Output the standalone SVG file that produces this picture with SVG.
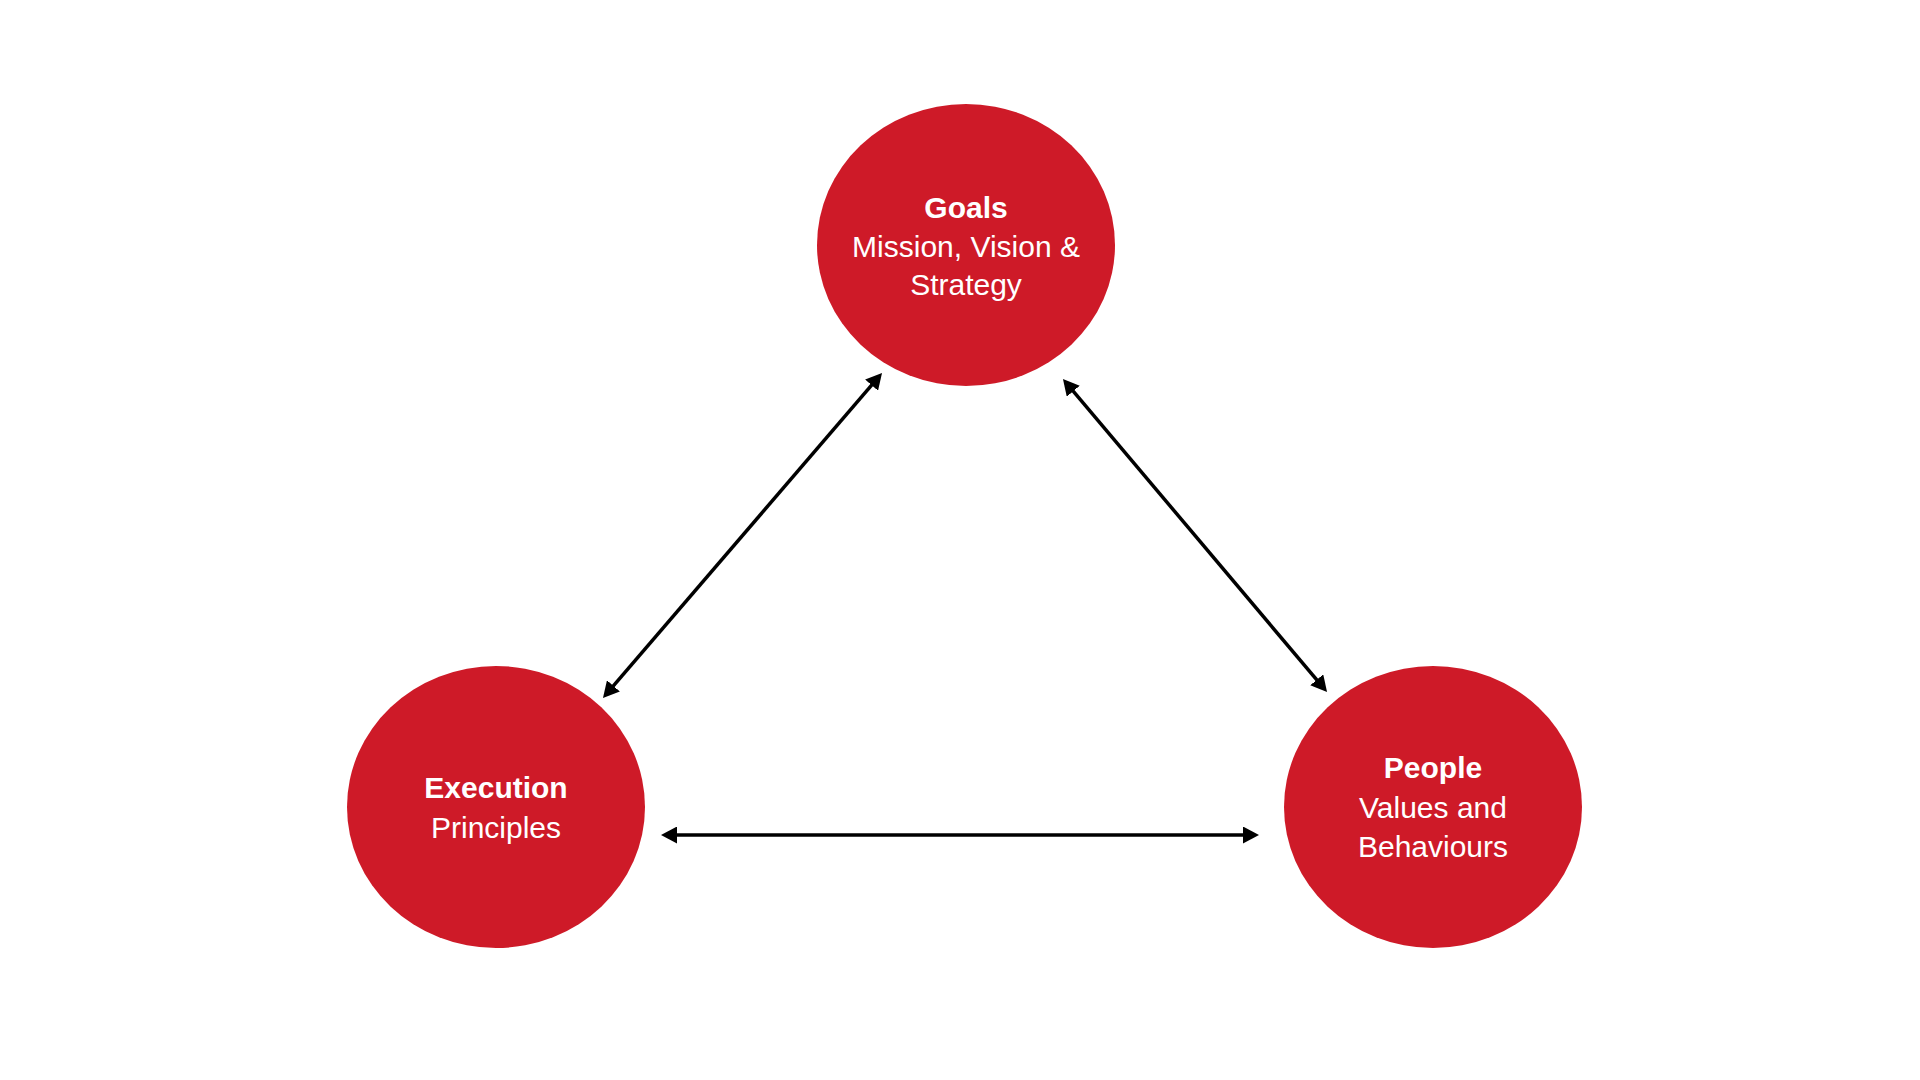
<svg xmlns="http://www.w3.org/2000/svg" width="1920" height="1080" viewBox="0 0 1920 1080">
  <style>
    .node { fill: #CE1A28; }
    .title { font-family: "Liberation Sans", Arial, sans-serif; font-size: 30px; font-weight: bold; fill: #FFFFFF; text-anchor: middle; }
    .sub { font-family: "Liberation Sans", Arial, sans-serif; font-size: 30px; font-weight: normal; fill: #FFFFFF; text-anchor: middle; }
    .conn { stroke: #000000; stroke-width: 3.5; fill: none; marker-start: url(#arrow); marker-end: url(#arrow); }
  </style>
  <defs>
    <marker id="arrow" viewBox="0 0 16 17" refX="6" refY="8.5" markerWidth="16" markerHeight="17" markerUnits="userSpaceOnUse" orient="auto-start-reverse">
      <path d="M0,0 L16,8.5 L0,17 Z" fill="#000000"/>
    </marker>
  </defs>
  <rect x="0" y="0" width="1920" height="1080" fill="#FFFFFF"/>
  <g id="connectors">
    <line class="conn" x1="875.5" y1="380.6" x2="609.5" y2="690.4"/>
    <line class="conn" x1="1069.4" y1="386.6" x2="1320.6" y2="684.4"/>
    <line class="conn" x1="671" y1="835" x2="1249" y2="835"/>
  </g>
  <g id="goals">
    <ellipse class="node" cx="966" cy="245" rx="149" ry="141"/>
    <text class="title" x="966" y="218">Goals</text>
    <text class="sub" x="966" y="257">Mission, Vision &amp;</text>
    <text class="sub" x="966" y="295">Strategy</text>
  </g>
  <g id="execution">
    <ellipse class="node" cx="496" cy="807" rx="149" ry="141"/>
    <text class="title" x="496" y="798">Execution</text>
    <text class="sub" x="496" y="838">Principles</text>
  </g>
  <g id="people">
    <ellipse class="node" cx="1433" cy="807" rx="149" ry="141"/>
    <text class="title" x="1433" y="778">People</text>
    <text class="sub" x="1433" y="818">Values and</text>
    <text class="sub" x="1433" y="857">Behaviours</text>
  </g>
</svg>
